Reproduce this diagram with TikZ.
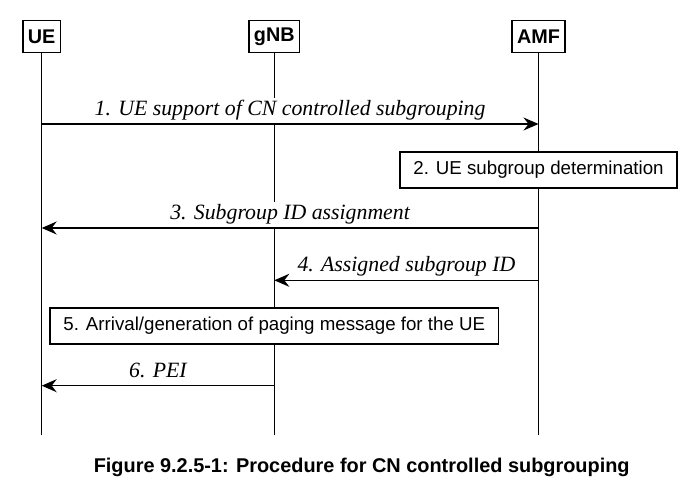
\documentclass[tikz,border=0pt]{standalone}
\usepackage{fontspec}
\setmainfont{Liberation Serif}
\setsansfont{Liberation Sans}
\usepackage{tikz}
\usetikzlibrary{arrows.meta,positioning}

\begin{document}
\begin{tikzpicture}[
    x=1pt, y=1pt,
    entity/.style={rectangle, draw, line width=1.2pt, inner xsep=5pt, inner ysep=0pt, minimum height=31.6pt, font=\fontsize{19.8}{22}\selectfont\sffamily\bfseries},
    action/.style={rectangle, draw, fill=white, line width=1.2pt, inner xsep=13.5pt, inner ysep=0pt, minimum height=36pt, font=\fontsize{18.7}{22}\selectfont\sffamily},
    lifeline/.style={line width=1.2pt},
    msg/.style={line width=1.3pt, -{Stealth[length=15pt, width=13pt, inset=5pt]}},
    msglabel/.style={anchor=base, yshift=8.5pt, fill=white, inner xsep=1pt, inner ysep=2.5pt, text height=15pt, text depth=5pt, font=\fontsize{21.8}{24}\selectfont\itshape}
]

\useasboundingbox (0,0) rectangle (690,-492);

% Entities
\node[entity] (ue) at (41.7, -36.5) {UE};
\node[entity] (gnb) at (274.3, -36.5) {gNB};
\node[entity] (amf) at (538.5, -36.5) {AMF};

% Lifelines
\coordinate (bottom) at (0, -435);
\draw[lifeline] (ue) -- (ue |- bottom);
\draw[lifeline] (gnb) -- (gnb |- bottom);
\draw[lifeline] (amf) -- (amf |- bottom);

% Step 1
\coordinate (y1) at (0, -124);
\draw[msg] (ue |- y1) -- (amf |- y1) node[midway, msglabel] {1. UE support of CN controlled subgrouping};

% Step 2
\node[action] (determine) at (538.5, -170) {2. UE subgroup determination};

% Step 3
\coordinate (y3) at (0, -228);
\draw[msg] (amf |- y3) -- (ue |- y3) node[midway, msglabel] {3. Subgroup ID assignment};

% Step 4
\coordinate (y4) at (0, -280.3);
\draw[msg] (amf |- y4) -- (gnb |- y4) node[midway, msglabel] {4. Assigned subgroup ID};

% Step 5
\node[action] (paging) at (274.3, -326) {5. Arrival/generation of paging message for the UE};

% Step 6
\coordinate (y6) at (0, -385.7);
\draw[msg] (gnb |- y6) -- (ue |- y6) node[midway, msglabel] {6. PEI};

% Caption
\node[anchor=base, font=\fontsize{19.9}{22}\selectfont\sffamily\bfseries] (caption) at (361.7, -472.7) {Figure 9.2.5-1: Procedure for CN controlled subgrouping};

\end{tikzpicture}
\end{document}
